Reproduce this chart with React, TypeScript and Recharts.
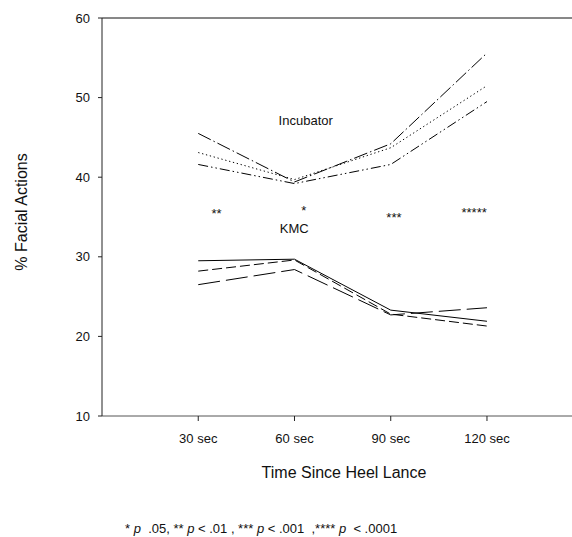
import { LineChart, Line, XAxis, YAxis, ReferenceLine, ReferenceDot } from 'recharts';

// time points (sec since heel lance)
const times = [30, 60, 90, 120];

// Incubator group (% facial actions)
const incubatorA = [45.5, 39.4, 44.2, 55.6];
const incubatorB = [43.1, 39.7, 43.7, 51.5];
const incubatorC = [41.6, 39.2, 41.6, 49.5];

// KMC group
const kmcA = [29.5, 29.7, 23.3, 21.9];
const kmcB = [28.2, 29.6, 22.8, 21.3];
const kmcC = [26.5, 28.4, 22.7, 23.6];

const yTicks = [10, 20, 30, 40, 50, 60];

// in-plot annotations (data coordinates)
const noteText = ['**', '*', '***', '*****', 'KMC', 'Incubator'];
const noteX = [35.7, 62.9, 91.0, 116.0, 59.9, 63.5];
const noteY = [35.5, 35.8, 35.0, 35.6, 33.6, 47.1];

const FONT = '"Liberation Sans", Arial, Helvetica, sans-serif';

const rows = times.map((t, i) => ({
  t,
  incA: incubatorA[i],
  incB: incubatorB[i],
  incC: incubatorC[i],
  kmcA: kmcA[i],
  kmcB: kmcB[i],
  kmcC: kmcC[i],
}));

const series = [
  { key: 'incA', dash: '14 3 1.5 3' },
  { key: 'incB', dash: '1.3 2.7' },
  { key: 'incC', dash: '10 3 1.5 3 1.5 3' },
  { key: 'kmcA', dash: undefined },
  { key: 'kmcB', dash: '10 4' },
  { key: 'kmcC', dash: '22 6' },
];

const YTitle = () => (
  <text
    x={27}
    y={212}
    transform="rotate(-90 27 212)"
    textAnchor="middle"
    fontSize={16}
    fill="#111"
    fontFamily={FONT}
  >
    % Facial Actions
  </text>
);

export default function App() {
  return (
    <div style={{ position: 'absolute', left: 0, top: 0, width: 572, height: 537, fontFamily: FONT, background: '#fff' }}>
      <LineChart width={572} height={537} data={rows} margin={{ top: 18, right: 0, bottom: 59, left: 0 }}>
        <XAxis
          dataKey="t"
          type="number"
          domain={[0, 146.5]}
          ticks={times}
          tickFormatter={(v) => `${v} sec`}
          tickSize={5}
          tickMargin={13}
          height={62}
          axisLine={{ stroke: '#555' }}
          tickLine={{ stroke: '#222' }}
          tick={{ fontSize: 13, fill: '#111', fontFamily: FONT }}
          label={{ value: 'Time Since Heel Lance', position: 'insideBottom', offset: 0, dx: 7, fontSize: 16, fill: '#111', fontFamily: FONT }}
        />
        <YAxis
          type="number"
          domain={[10, 60]}
          ticks={yTicks}
          width={102}
          tickSize={4}
          tickMargin={8}
          axisLine={{ stroke: '#222' }}
          tickLine={{ stroke: '#222' }}
          tick={{ fontSize: 13, fill: '#111', fontFamily: FONT }}
          label={{ content: () => <YTitle /> }}
        />
        <ReferenceLine y={60} stroke="#111" />
        {series.map((s) => (
          <Line
            key={s.key}
            type="linear"
            dataKey={s.key}
            stroke="#000"
            strokeWidth={1}
            strokeDasharray={s.dash}
            dot={false}
            activeDot={false}
            isAnimationActive={false}
          />
        ))}
        {noteText.map((txt, i) => (
          <ReferenceDot
            key={txt + i}
            x={noteX[i]}
            y={noteY[i]}
            r={0}
            stroke="none"
            fill="none"
            label={{ value: txt, position: 'center', fontSize: 13, fill: '#111', fontFamily: FONT }}
          />
        ))}
      </LineChart>
      <div
        style={{
          position: 'absolute',
          left: 125,
          top: 522,
          fontSize: 13,
          lineHeight: '13px',
          whiteSpace: 'pre',
          color: '#111',
        }}
      >
        * <i>p</i>  .05, ** <i>p</i> &lt; .01 , *** <i>p</i> &lt; .001  ,**** <i>p</i>  &lt; .0001
      </div>
    </div>
  );
}
